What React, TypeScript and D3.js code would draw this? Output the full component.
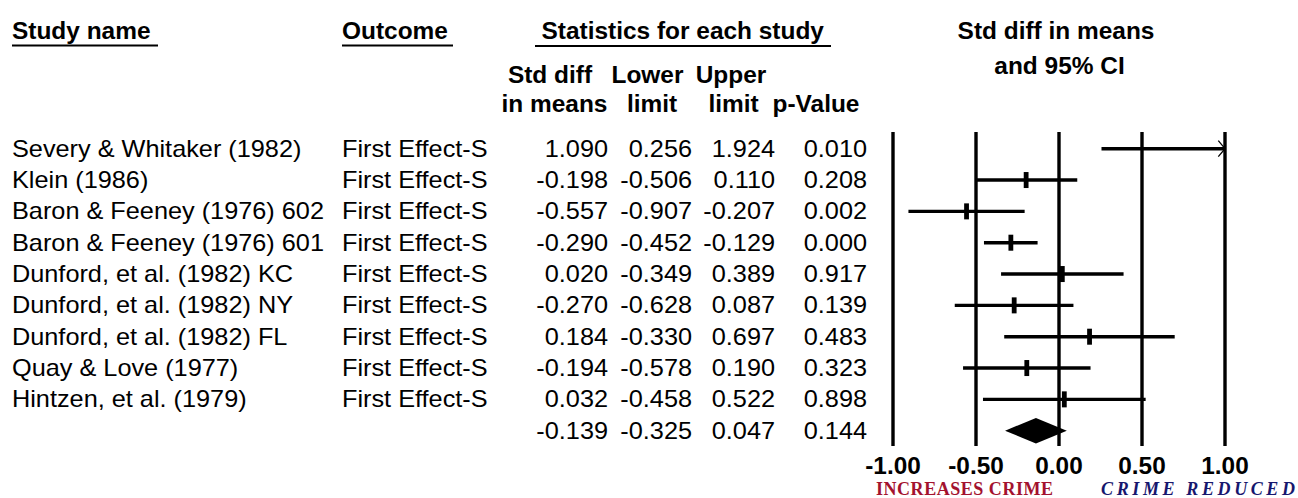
import React from "react";
import * as d3 from "d3";

const studies = [
  "Severy & Whitaker (1982)",
  "Klein (1986)",
  "Baron & Feeney (1976) 602",
  "Baron & Feeney (1976) 601",
  "Dunford, et al. (1982) KC",
  "Dunford, et al. (1982) NY",
  "Dunford, et al. (1982) FL",
  "Quay & Love (1977)",
  "Hintzen, et al. (1979)",
];
const outcomes = studies.map(() => "First Effect-S");
const effect = [1.09, -0.198, -0.557, -0.29, 0.02, -0.27, 0.184, -0.194, 0.032];
const lower = [0.256, -0.506, -0.907, -0.452, -0.349, -0.628, -0.33, -0.578, -0.458];
const upper = [1.924, 0.11, -0.207, -0.129, 0.389, 0.087, 0.697, 0.19, 0.522];
const pValue = [0.01, 0.208, 0.002, 0.0, 0.917, 0.139, 0.483, 0.323, 0.898];
const summary = { effect: -0.139, lower: -0.325, upper: 0.047, p: 0.144 };
const ticks = [-1, -0.5, 0, 0.5, 1];

const FONT = "'Liberation Sans', Arial, Helvetica, sans-serif";
const SERIF = "'Liberation Serif', 'Times New Roman', serif";

function T({ x, y, sx, size, bold = false, anchor = "start", children }: any) {
  const s = size ?? (bold ? 23.5 : 23);
  const k = sx ?? (bold ? 1.04 : 1.1);
  return (
    <text
      transform={`translate(${x},${y}) scale(${k},1)`}
      fontFamily={FONT}
      fontSize={s}
      fontWeight={bold ? "bold" : "normal"}
      textAnchor={anchor}
      fill="#000"
    >
      {children}
    </text>
  );
}

export default function App() {
  const x = d3.scaleLinear().domain([-1, 1]).range([893, 1225]);
  const y = d3.scaleLinear().domain([0, 9]).range([148.7, 430.7]);
  const f3 = d3.format(".3f");
  const f2 = d3.format(".2f");
  const fmt = (v: number) => f3(v).replace("\u2212", "-");
  const fmtT = (v: number) => f2(v).replace("\u2212", "-");
  const clamp = (v: number) => Math.max(-1, Math.min(1, v));
  const axisTop = 132;
  const axisBottom = 446;
  const base = 8;

  const diamond =
    `M${x(summary.lower)},${y(9)} L${x(summary.effect)},${y(9) - 12.8} ` +
    `L${x(summary.upper)},${y(9)} L${x(summary.effect)},${y(9) + 12.8} Z`;

  const colsRight = [608, 692, 775, 867];

  return (
    <svg
      width={1298}
      height={498}
      style={{ position: "absolute", left: 0, top: 0, background: "#fff" }}
    >
      {/* Headers */}
      <T x={12} y={38.5} bold>Study name</T>
      <line x1={12} x2={158} y1={45.5} y2={45.5} stroke="#000" strokeWidth={2} />
      <T x={342} y={38.5} bold>Outcome</T>
      <line x1={342} x2={453} y1={45.5} y2={45.5} stroke="#000" strokeWidth={2} />
      <T x={541.5} y={39} bold>Statistics for each study</T>
      <line x1={535} x2={831} y1={46} y2={46} stroke="#000" strokeWidth={2} />

      <T x={550} y={83} bold anchor="middle">Std diff</T>
      <T x={554.5} y={112} bold anchor="middle">in means</T>
      <T x={647.5} y={83} bold anchor="middle">Lower</T>
      <T x={652} y={112} bold anchor="middle">limit</T>
      <T x={731} y={83} bold anchor="middle">Upper</T>
      <T x={733.5} y={112} bold anchor="middle">limit</T>
      <T x={816} y={112} bold anchor="middle">p-Value</T>

      <T x={1056} y={39} bold anchor="middle">Std diff in means</T>
      <T x={1059.5} y={74} bold anchor="middle">and 95% CI</T>

      {/* Rows */}
      {studies.map((s, i) => (
        <g key={s}>
          <T x={12} y={y(i) + base}>{s}</T>
          <T x={342} y={y(i) + base}>{outcomes[i]}</T>
          <T x={colsRight[0]} y={y(i) + base} anchor="end">{fmt(effect[i])}</T>
          <T x={colsRight[1]} y={y(i) + base} anchor="end">{fmt(lower[i])}</T>
          <T x={colsRight[2]} y={y(i) + base} anchor="end">{fmt(upper[i])}</T>
          <T x={colsRight[3]} y={y(i) + base} anchor="end">{fmt(pValue[i])}</T>
        </g>
      ))}
      <T x={colsRight[0]} y={y(9) + base} anchor="end">{fmt(summary.effect)}</T>
      <T x={colsRight[1]} y={y(9) + base} anchor="end">{fmt(summary.lower)}</T>
      <T x={colsRight[2]} y={y(9) + base} anchor="end">{fmt(summary.upper)}</T>
      <T x={colsRight[3]} y={y(9) + base} anchor="end">{fmt(summary.p)}</T>

      {/* Axis lines */}
      {ticks.map((t) => (
        <line key={t} x1={x(t)} x2={x(t)} y1={axisTop} y2={axisBottom} stroke="#000" strokeWidth={3.4} />
      ))}

      {/* CIs */}
      {studies.map((s, i) => {
        const x1 = x(clamp(lower[i]));
        const x2 = x(clamp(upper[i]));
        const yy = y(i);
        return (
          <g key={"ci" + s}>
            <line x1={x1} x2={x2} y1={yy} y2={yy} stroke="#000" strokeWidth={3.4} />
            {effect[i] >= -1 && effect[i] <= 1 && (
              <rect x={x(effect[i]) - 2.4} y={yy - 8} width={4.8} height={16} fill="#000" />
            )}
            {upper[i] > 1 && (
              <polyline
                points={`${x(1) - 6.7},${yy - 8} ${x(1)},${yy} ${x(1) - 6.7},${yy + 8}`}
                fill="none"
                stroke="#000"
                strokeWidth={1.3}
              />
            )}
            {lower[i] < -1 && (
              <polyline
                points={`${x(-1) + 6.7},${yy - 8} ${x(-1)},${yy} ${x(-1) + 6.7},${yy + 8}`}
                fill="none"
                stroke="#000"
                strokeWidth={1.3}
              />
            )}
          </g>
        );
      })}
      <path d={diamond} fill="#000" />

      {/* Tick labels */}
      {ticks.map((t) => (
        <T key={"tl" + t} x={x(t)} y={473.5} bold size={23} sx={1.06} anchor="middle">
          {fmtT(t)}
        </T>
      ))}

      <text
        x={876}
        y={494.5}
        fontFamily={SERIF}
        fontSize={18}
        fontWeight="bold"
        fill="#a3122e"
        textLength={177}
        lengthAdjust="spacing"
      >
        INCREASES CRIME
      </text>
      <text
        x={1101}
        y={494.5}
        fontFamily={SERIF}
        fontSize={18}
        fontWeight="bold"
        fontStyle="italic"
        fill="#17176e"
        textLength={194}
        lengthAdjust="spacing"
      >
        CRIME REDUCED
      </text>
    </svg>
  );
}
